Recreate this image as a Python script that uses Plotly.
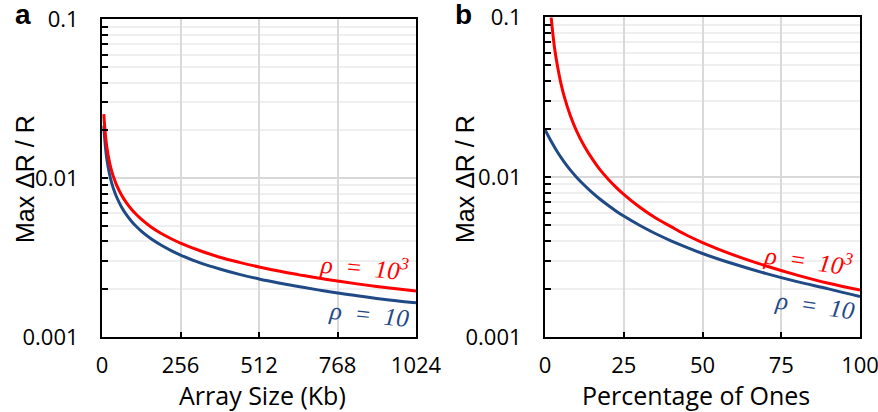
import plotly.graph_objects as go

# ---- data ----
size_kb = [6, 8, 12, 16, 24, 32, 40, 48, 64, 80, 96, 112, 128, 160, 192, 224, 256, 320, 384, 448,
           512, 576, 640, 704, 768, 832, 896, 960, 1024]
size_red = [0.0253, 0.0221, 0.0180, 0.0156, 0.0127, 0.0110, 0.00987, 0.00901, 0.0078, 0.00698,
            0.00637, 0.0059, 0.00552, 0.00493, 0.0045, 0.00417, 0.0039, 0.00349, 0.00318, 0.00295,
            0.00276, 0.0026, 0.00247, 0.00235, 0.00225, 0.00216, 0.00208, 0.00201, 0.00195]
size_blue = [0.0214, 0.0186, 0.0152, 0.0131, 0.0107, 0.00928, 0.0083, 0.00758, 0.00656, 0.00587,
             0.00536, 0.00496, 0.00464, 0.00415, 0.00379, 0.00351, 0.00328, 0.00293, 0.00268, 0.00248,
             0.00232, 0.00219, 0.00208, 0.00198, 0.00189, 0.00182, 0.00175, 0.00169, 0.00164]

pct_red_x = [1.95, 3, 4, 5, 6, 8, 10, 12.5, 15, 17.5, 20, 22.5, 25, 30, 35, 40, 45, 50, 60, 70, 80, 90, 100]
pct_red = [0.100, 0.065, 0.049, 0.039, 0.0325, 0.0244, 0.0195, 0.0156, 0.0130, 0.0111, 0.00975,
           0.00867, 0.0078, 0.0065, 0.00557, 0.0049, 0.00433, 0.0039, 0.00325, 0.00279, 0.00244,
           0.00217, 0.00197]
pct_blue_x = [0, 2, 4, 6, 8, 10, 12.5, 15, 17.5, 20, 22.5, 25, 30, 35, 40, 45, 50, 60, 70, 80, 90, 100]
pct_blue = [0.0198, 0.0167, 0.0143, 0.0125, 0.0111, 0.0100, 0.0089, 0.0080, 0.00727, 0.00667,
            0.00615, 0.00571, 0.0050, 0.00444, 0.0040, 0.00364, 0.00333, 0.00286, 0.0025, 0.00222,
            0.0020, 0.00179]

size_ticks = [0, 256, 512, 768, 1024]
pct_ticks = [0, 25, 50, 75, 100]
y_ticks = [0.001, 0.01, 0.1]
y_ticktext = ["0.001", "0.01", "0.1"]

RED = "#ff0000"
BLUE = "#1f4a86"
W, H = 878, 412

fig = go.Figure()
fig.add_trace(go.Scatter(x=size_kb, y=size_blue, mode="lines", line=dict(color=BLUE, width=3, shape="spline"),
                         xaxis="x", yaxis="y", showlegend=False))
fig.add_trace(go.Scatter(x=size_kb, y=size_red, mode="lines", line=dict(color=RED, width=3, shape="spline"),
                         xaxis="x", yaxis="y", showlegend=False))
fig.add_trace(go.Scatter(x=pct_blue_x, y=pct_blue, mode="lines", line=dict(color=BLUE, width=3, shape="spline"),
                         xaxis="x2", yaxis="y2", showlegend=False))
fig.add_trace(go.Scatter(x=pct_red_x, y=pct_red, mode="lines", line=dict(color=RED, width=3, shape="spline"),
                         xaxis="x2", yaxis="y2", showlegend=False))

tickfont = dict(family="Open Sans", size=22, color="black")

def xax(domain, rng, tv, anchor):
    return dict(domain=domain, range=rng, tickvals=tv, ticks="inside", ticklen=5, tickwidth=1.5,
                tickcolor="black", showline=True, linewidth=2, linecolor="black", mirror=True,
                showgrid=True, gridcolor="#d9d9d9", gridwidth=1.5, zeroline=False, anchor=anchor,
                tickfont=tickfont, ticklabelstandoff=8, ticklabeloverflow="allow",
                fixedrange=True, automargin=False)

def yax(domain, anchor):
    return dict(domain=domain, type="log", range=[-3, -1], tickvals=y_ticks, ticktext=y_ticktext,
                ticks="inside", ticklen=6, tickwidth=1.5, tickcolor="black",
                showline=True, linewidth=2, linecolor="black", mirror=True,
                showgrid=True, gridcolor="#d9d9d9", gridwidth=1.5, zeroline=False, anchor=anchor,
                minor=dict(dtick="D1", ticks="inside", ticklen=6, tickwidth=1.5, tickcolor="black",
                           showgrid=True, gridcolor="#efefef", gridwidth=1.5),
                tickfont=tickfont, ticklabelstandoff=17, ticklabeloverflow="allow",
                fixedrange=True, automargin=False)

def px_x(p):
    return p / W

def px_y(p):
    return 1 - p / H

annotations = []
title_font = dict(family="Open Sans", size=25, color="black")
ytitle_font = dict(family="Liberation Sans, Arial", size=25, color="black")
for cx, txt in [(262, "Array Size (Kb)"), (696, "Percentage of Ones")]:
    annotations.append(dict(text=txt, x=px_x(cx), y=px_y(395), xref="paper", yref="paper",
                            xanchor="center", yanchor="middle", showarrow=False, font=title_font))
for cx in [25, 465]:
    annotations.append(dict(text="Max ΔR / R", x=px_x(cx), y=px_y(179), xref="paper", yref="paper",
                            xanchor="center", yanchor="middle", textangle=-90, showarrow=False,
                            font=ytitle_font))
for cx, txt in [(23, "a"), (463, "b")]:
    annotations.append(dict(text="<b>" + txt + "</b>", x=px_x(cx), y=px_y(15), xref="paper", yref="paper",
                            xanchor="center", yanchor="middle", showarrow=False,
                            font=dict(family="Liberation Sans, Arial", size=28, color="black")))

rho_font = "Liberation Serif"
sp = "\u00a0\u00a0"
labels = [
    ("x", "y", 857, -2.555, "ρ" + sp + "=" + sp + "10<sup>3</sup>", RED, 5),
    ("x", "y", 871, -2.861, "ρ" + sp + "=" + sp + "10", BLUE, 6),
    ("x2", "y2", 83.5, -2.515, "ρ" + sp + "=" + sp + "10<sup>3</sup>", RED, 8),
    ("x2", "y2", 85.7, -2.80, "ρ" + sp + "=" + sp + "10", BLUE, 8),
]
for xr, yr, xv, yv, txt, col, ang in labels:
    annotations.append(dict(text="<i>" + txt + "</i>", x=xv, y=yv, xref=xr, yref=yr, xanchor="center",
                            yanchor="middle", textangle=ang, showarrow=False,
                            font=dict(family=rho_font, size=25, color=col)))

fig.update_layout(
    template="none",
    width=W, height=H, margin=dict(l=0, r=0, t=0, b=0, pad=0),
    paper_bgcolor="white", plot_bgcolor="white",
    xaxis=xax([102 / W, 416 / W], [0, 1024], size_ticks, "y"),
    yaxis=yax([1 - 337 / H, 1 - 19.3 / H], "x"),
    xaxis2=xax([545 / W, 860 / W], [0, 100], pct_ticks, "y2"),
    yaxis2=yax([1 - 337 / H, 1 - 17.3 / H], "x2"),
    annotations=annotations,
)

fig.write_html("out.html", config={"displayModeBar": False})
